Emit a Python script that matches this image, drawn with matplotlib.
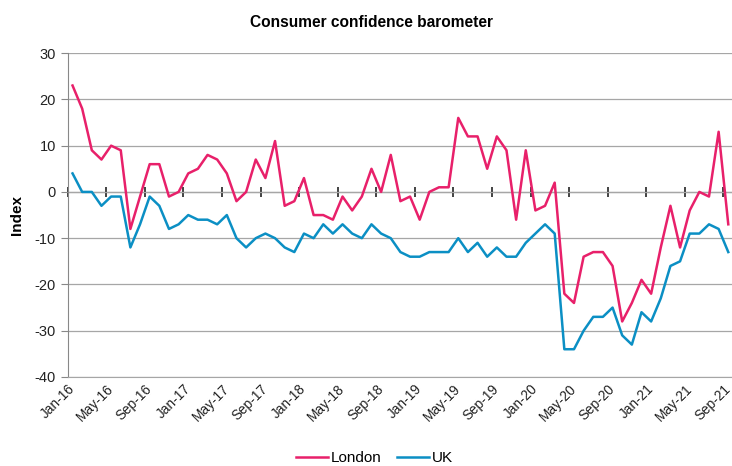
import matplotlib.pyplot as plt
import numpy as np

plt.rcParams['font.family'] = ['Liberation Sans', 'DejaVu Sans']
plt.rcParams['axes.unicode_minus'] = False

months = ['Jan', 'Feb', 'Mar', 'Apr', 'May', 'Jun', 'Jul', 'Aug', 'Sep', 'Oct', 'Nov', 'Dec']
dates = [f'{m}-{y}' for y in range(16, 22) for m in months][:69]

london = [23, 18, 9, 7, 10, 9, -8, -1, 6, 6, -1, 0,
          4, 5, 8, 7, 4, -2, 0, 7, 3, 11, -3, -2,
          3, -5, -5, -6, -1, -4, -1, 5, 0, 8, -2, -1,
          -6, 0, 1, 1, 16, 12, 12, 5, 12, 9, -6, 9,
          -4, -3, 2, -22, -24, -14, -13, -13, -16, -28, -24, -19,
          -22, -12, -3, -12, -4, 0, -1, 13, -7]
uk = [4, 0, 0, -3, -1, -1, -12, -7, -1, -3, -8, -7,
      -5, -6, -6, -7, -5, -10, -12, -10, -9, -10, -12, -13,
      -9, -10, -7, -9, -7, -9, -10, -7, -9, -10, -13, -14,
      -14, -13, -13, -13, -10, -13, -11, -14, -12, -14, -14, -11,
      -9, -7, -9, -34, -34, -30, -27, -27, -25, -31, -33, -26,
      -28, -23, -16, -15, -9, -9, -7, -8, -13]

x = np.arange(len(dates))

fig = plt.figure(figsize=(7.32, 4.66), dpi=100)
ax = fig.add_axes([0.0925, 0.191, 0.909, 0.695])

for y in range(-40, 31, 10):
    ax.axhline(y, color='#a6a6a6', lw=0.9, zorder=1)

ax.plot(x, london, color='#e8206a', lw=1.8, label='London', zorder=3)
ax.plot(x, uk, color='#0b8fc4', lw=1.8, label='UK', zorder=3)

ax.set_xlim(-0.5, len(dates) - 0.5)
ax.set_ylim(-40, 30)
ax.set_yticks(range(-40, 31, 10))

# category labels every 4 months
ax.set_xticks(x[::4])
ax.set_xticklabels(dates[::4], rotation=45, ha='right', va='center',
                   rotation_mode='anchor')
ax.tick_params(axis='x', length=0, pad=7, labelsize=9.8, colors='#222222')
ax.tick_params(axis='y', length=5, color='#888888', labelsize=10.5, colors='#222222')

for s in ['top', 'right']:
    ax.spines[s].set_visible(False)
ax.spines['left'].set_color('#888888')
ax.spines['bottom'].set_color('#a6a6a6')

# horizontal axis drawn through zero with tick marks between categories
ymin, ymax = ax.get_ylim()
zax = ax.secondary_xaxis((0 - ymin) / (ymax - ymin))
zax.set_xticks(np.arange(-0.5, len(dates) - 1, 4))
zax.set_xticklabels([])
zax.tick_params(axis='x', direction='inout', length=7, width=1.2,
                color='#222222', labelbottom=False, labeltop=False)
zax.spines['bottom'].set_color('#555555')
zax.spines['bottom'].set_linewidth(1.4)

ax.set_ylabel('Index', fontsize=11, fontweight='bold', labelpad=8)
fig.text(0.508, 0.952, 'Consumer confidence barometer', ha='center', va='center',
         fontsize=11.2, fontweight='bold')

fig.legend(loc='lower center', bbox_to_anchor=(0.512, -0.028), ncol=2, frameon=False,
           fontsize=11, handlelength=2.1, handletextpad=0.2, columnspacing=1.0)

fig.savefig('out.png', dpi=100)
